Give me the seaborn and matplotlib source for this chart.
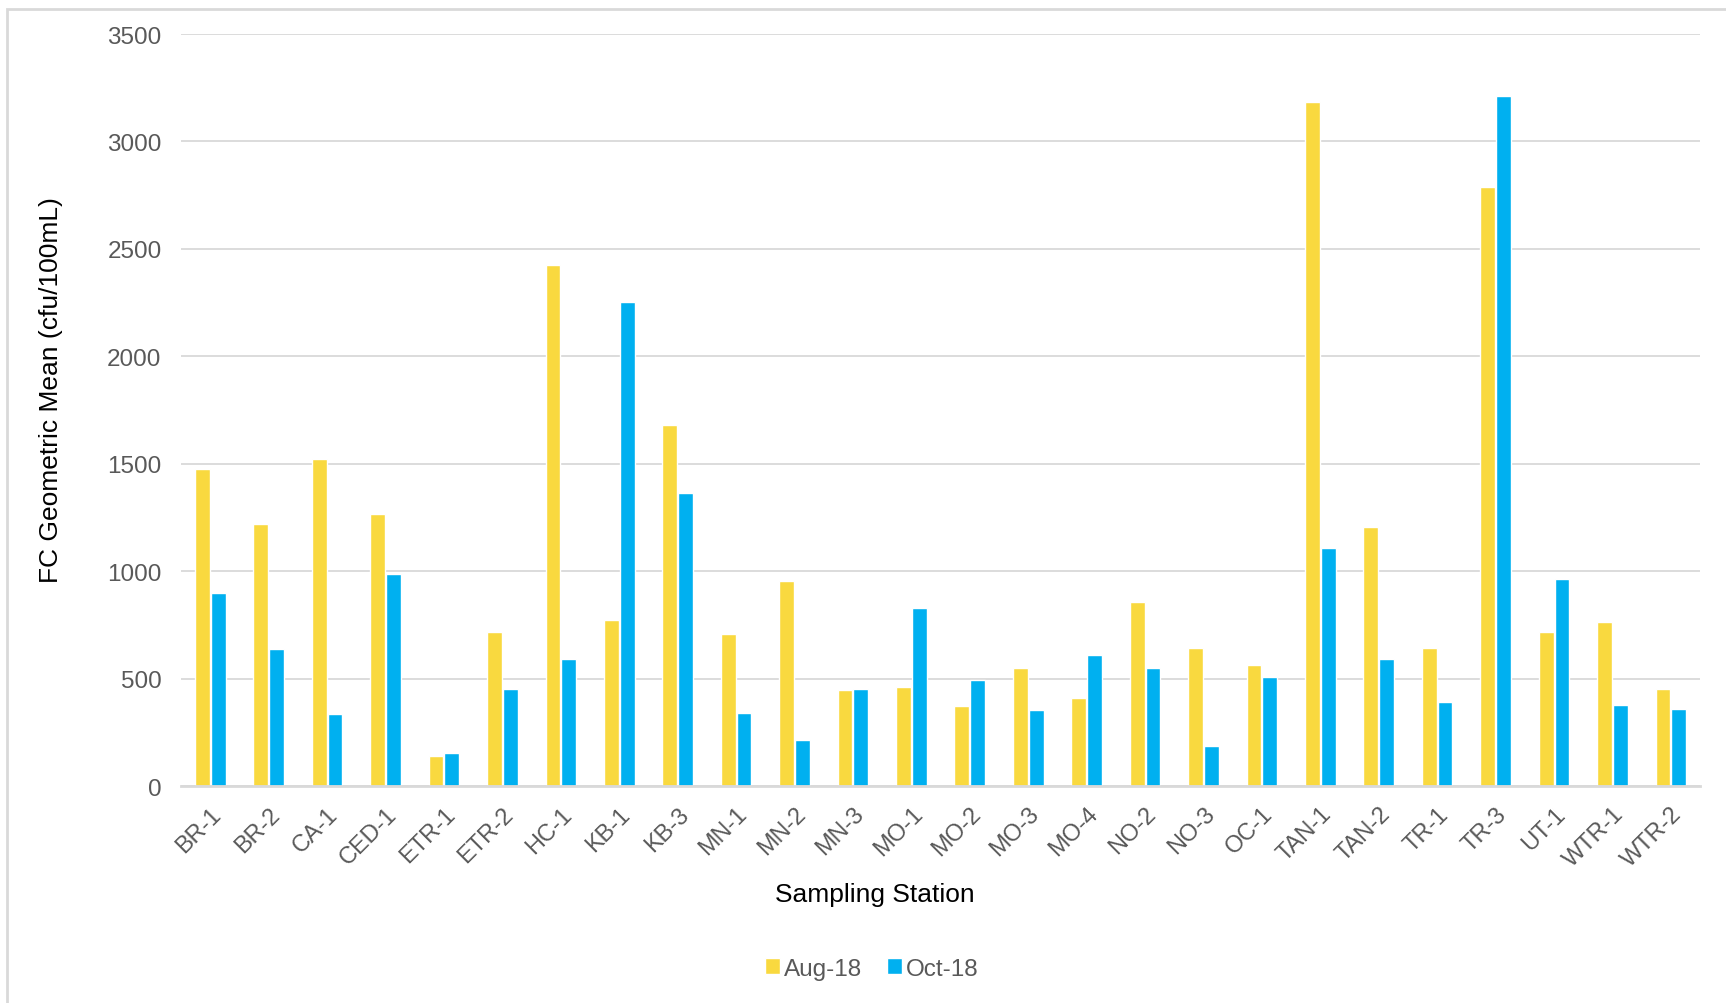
import pandas as pd
import seaborn as sns
import matplotlib.pyplot as plt
from matplotlib.patches import Rectangle

stations = ["BR-1", "BR-2", "CA-1", "CED-1", "ETR-1", "ETR-2", "HC-1", "KB-1", "KB-3",
            "MN-1", "MN-2", "MN-3", "MO-1", "MO-2", "MO-3", "MO-4", "NO-2", "NO-3",
            "OC-1", "TAN-1", "TAN-2", "TR-1", "TR-3", "UT-1", "WTR-1", "WTR-2"]
aug_18 = [1476, 1220, 1522, 1266, 138, 717, 2424, 774, 1681,
          707, 953, 446, 461, 374, 548, 410, 856, 641,
          564, 3183, 1204, 641, 2788, 717, 764, 451]
oct_18 = [897, 636, 333, 989, 154, 451, 589, 2255, 1363,
          338, 215, 451, 830, 492, 354, 610, 548, 185,
          507, 1107, 589, 390, 3213, 964, 379, 359]
series = ["Aug-18", "Oct-18"]
colors = ["#F9D93F", "#00B0F0"]

df = pd.DataFrame({"station": stations, "Aug-18": aug_18, "Oct-18": oct_18})
df = df.melt(id_vars="station", var_name="period", value_name="fc")

sns.set_style("white")
plt.rcParams["font.family"] = ["Liberation Sans", "DejaVu Sans"]

fig = plt.figure(figsize=(17.26, 10.04), dpi=100)
ax = fig.add_axes([0.1049, 0.2161, 0.8801, 0.749])

sns.barplot(data=df, x="station", y="fc", hue="period", hue_order=series,
            palette=colors, saturation=1, width=0.54, gap=0.06, ax=ax, legend=True)

ax.set_ylim(0, 3500)
ax.set_yticks(range(0, 3501, 500))
ax.yaxis.grid(True, color="#D9D9D9", linewidth=1.3)
ax.set_axisbelow(True)
for s in ["top", "right", "left"]:
    ax.spines[s].set_visible(False)
ax.spines["bottom"].set_color("#D9D9D9")
ax.spines["bottom"].set_linewidth(2)
ax.tick_params(axis="both", length=0, colors="#595959")
ax.tick_params(axis="y", labelsize=17.5, pad=14)
ax.tick_params(axis="x", labelsize=17, pad=12)
plt.setp(ax.get_xticklabels(), rotation=45, ha="right", rotation_mode="anchor")

ax.set_xlabel("Sampling Station", fontsize=19, color="black")
ax.set_ylabel("FC Geometric Mean (cfu/100mL)", fontsize=19, color="black")
ax.xaxis.set_label_coords(0.457, -0.128)
ax.yaxis.set_label_coords(-0.0778, 0.528)

ax.legend_.remove()
handles, labels = ax.get_legend_handles_labels()
fig.legend(handles, labels, loc="center", bbox_to_anchor=(0.505, 0.034), ncol=2,
           frameon=False, fontsize=17.5, handlelength=0.65, handleheight=0.65,
           handletextpad=0.15, columnspacing=1.0, labelcolor="#595959")

fig.patches.append(Rectangle((0.004, -0.05), 1.2, 0.045 + 1 - 5 / 1004,
                             transform=fig.transFigure, fill=False,
                             edgecolor="#D9D9D9", linewidth=2))

fig.savefig("out.png", dpi=100)
